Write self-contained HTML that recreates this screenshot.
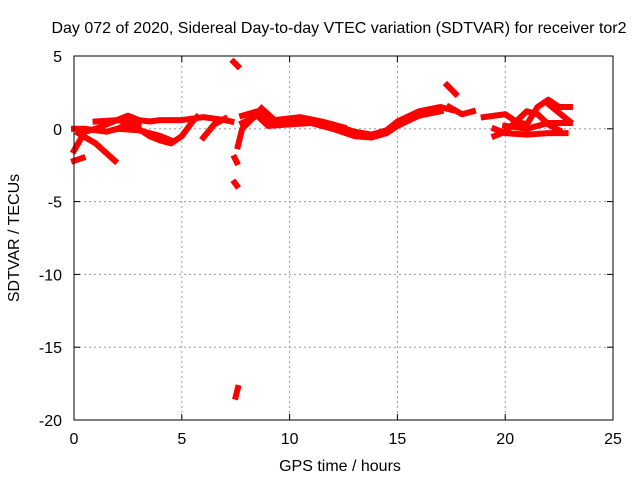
<!DOCTYPE html>
<html><head><meta charset="utf-8"><style>
body{margin:0;background:#fff}
svg{display:block;font-family:"Liberation Sans",sans-serif}
</style></head><body>
<svg id="c" width="640" height="480">
<text x="339" y="33" font-size="16" text-anchor="middle">Day 072 of 2020, Sidereal Day-to-day VTEC variation (SDTVAR) for receiver tor2</text>
<text x="340" y="471" font-size="16" text-anchor="middle">GPS time / hours</text>
<text transform="translate(19,238) rotate(-90)" font-size="16" text-anchor="middle">SDTVAR / TECUs</text>
<g id="grid"></g><g id="data"></g>
<rect x="74" y="56" width="539" height="364" fill="none" stroke="#000"/>
</svg>
<script>
const xTicks=[0,5,10,15,20,25];
const yTicks=[5,0,-5,-10,-15,-20];
const tracks=[
[[7.8,0.9],[8.5,1.2],[9,0.5],[10,0.5],[11,0.6],[12,0.3],[13,-0.2],[13.8,-0.4],[14.5,-0.1],[15,0.5],[16,1.2],[17,1.5],[17.5,1.3]],
[[7.8,0.4],[8.5,0.9],[9,0.2],[10,0.3],[11,0.4],[12,0],[13,-0.5],[13.8,-0.6],[14.5,-0.3],[15,0.2],[16,0.9],[17,1.2]],
[[8.7,1.4],[9.3,0.6],[10.5,0.8],[11.5,0.5],[12.5,0.1]],
[[17.3,3.0],[17.7,2.4]],
[[17.4,1.5],[18,1.0],[18.5,1.2]],
[[19,0.8],[20,1.0],[20.5,0.5],[21,0.3],[21.5,1.5],[22,2.0],[22.5,1.5],[23,1.5]],
[[19.5,0.0],[20,-0.3],[21,-0.4],[22,-0.3],[22.8,-0.3]],
[[19.5,-0.5],[20,-0.2],[20.5,0.5],[21,1.2],[21.5,1.0],[22,0.3],[22.5,-0.1]],
[[20,0.2],[21,0],[22,0.4],[23,0.4]],
[[22,1.7],[23,0.5]],
[[0,-1.5],[0.5,-0.2],[1,0],[1.5,0.3],[2,0.6],[2.5,0.9],[3,0.6],[3.5,0.5],[4,0.6],[5,0.6],[6,0.8],[7,0.6],[7.3,0.5]],
[[0,0],[0.5,0],[1.5,-0.2],[2,0],[3,-0.1],[4,-0.5],[4.5,-0.8]],
[[0.2,-0.3],[1,-1.0],[1.9,-2.2]],
[[0,-2.2],[0.4,-2.0]],
[[2,0],[2.5,0.3],[3,0],[3.5,-0.5],[4,-0.8],[4.5,-1],[5,-0.5],[5.5,0.5],[5.7,0.8]],
[[6,-0.6],[6.5,0.3],[7,0.7]],
[[1,0.5],[2,0.6],[3,0.3]],
[[7.4,4.6],[7.6,4.3]],
[[7.6,-1.2],[7.8,0],[8.2,0.6]],
[[7.45,-2.0],[7.55,-2.3]],
[[7.45,-3.7],[7.55,-3.9]],
[[7.5,-18.4],[7.6,-17.8]]
];
const NS='http://www.w3.org/2000/svg';
const X0=74,X1=613,Y0=56,Y1=420;
const sx=h=>X0+(h-0)/(25-0)*(X1-X0);
const sy=v=>Y0+(5-v)/(5+20)*(Y1-Y0);
const g=document.getElementById('grid'),d=document.getElementById('data');
function mk(t,a,p){const e=document.createElementNS(NS,t);for(const k in a)e.setAttribute(k,a[k]);p.appendChild(e);return e;}
xTicks.forEach(t=>{const x=sx(t);
 if(t>0&&t<25){const l=mk('line',{x1:x,x2:x,y1:Y0,y2:Y1,stroke:'#999','stroke-dasharray':'2,3'},g);
 
 }
 const tl=mk('text',{x:x,y:444,'font-size':16,'text-anchor':'middle'},g);tl.textContent=t;
 
 
 mk('line',{x1:x,x2:x,y1:Y1,y2:Y1-6,stroke:'#000'},g);mk('line',{x1:x,x2:x,y1:Y0,y2:Y0+6,stroke:'#000'},g);});
yTicks.forEach(t=>{const y=sy(t);
 if(t<5&&t>-20){const l=mk('line',{x1:X0,x2:X1,y1:y,y2:y,stroke:'#999','stroke-dasharray':'2,3'},g);
 
 }
 const tl=mk('text',{x:62,y:y+6,'font-size':16,'text-anchor':'end'},g);tl.textContent=t;
 
 
 mk('line',{x1:X0,x2:X0+6,y1:y,y2:y,stroke:'#000'},g);mk('line',{x1:X1,x2:X1-6,y1:y,y2:y,stroke:'#000'},g);});
tracks.forEach(tr=>{const p=mk('polyline',{points:tr.map(q=>sx(q[0])+','+sy(q[1])).join(' '),fill:'none',stroke:'#f00','stroke-width':6,'stroke-linejoin':'round','stroke-linecap':'square'},d);
 
 });
</script>
</body></html>
